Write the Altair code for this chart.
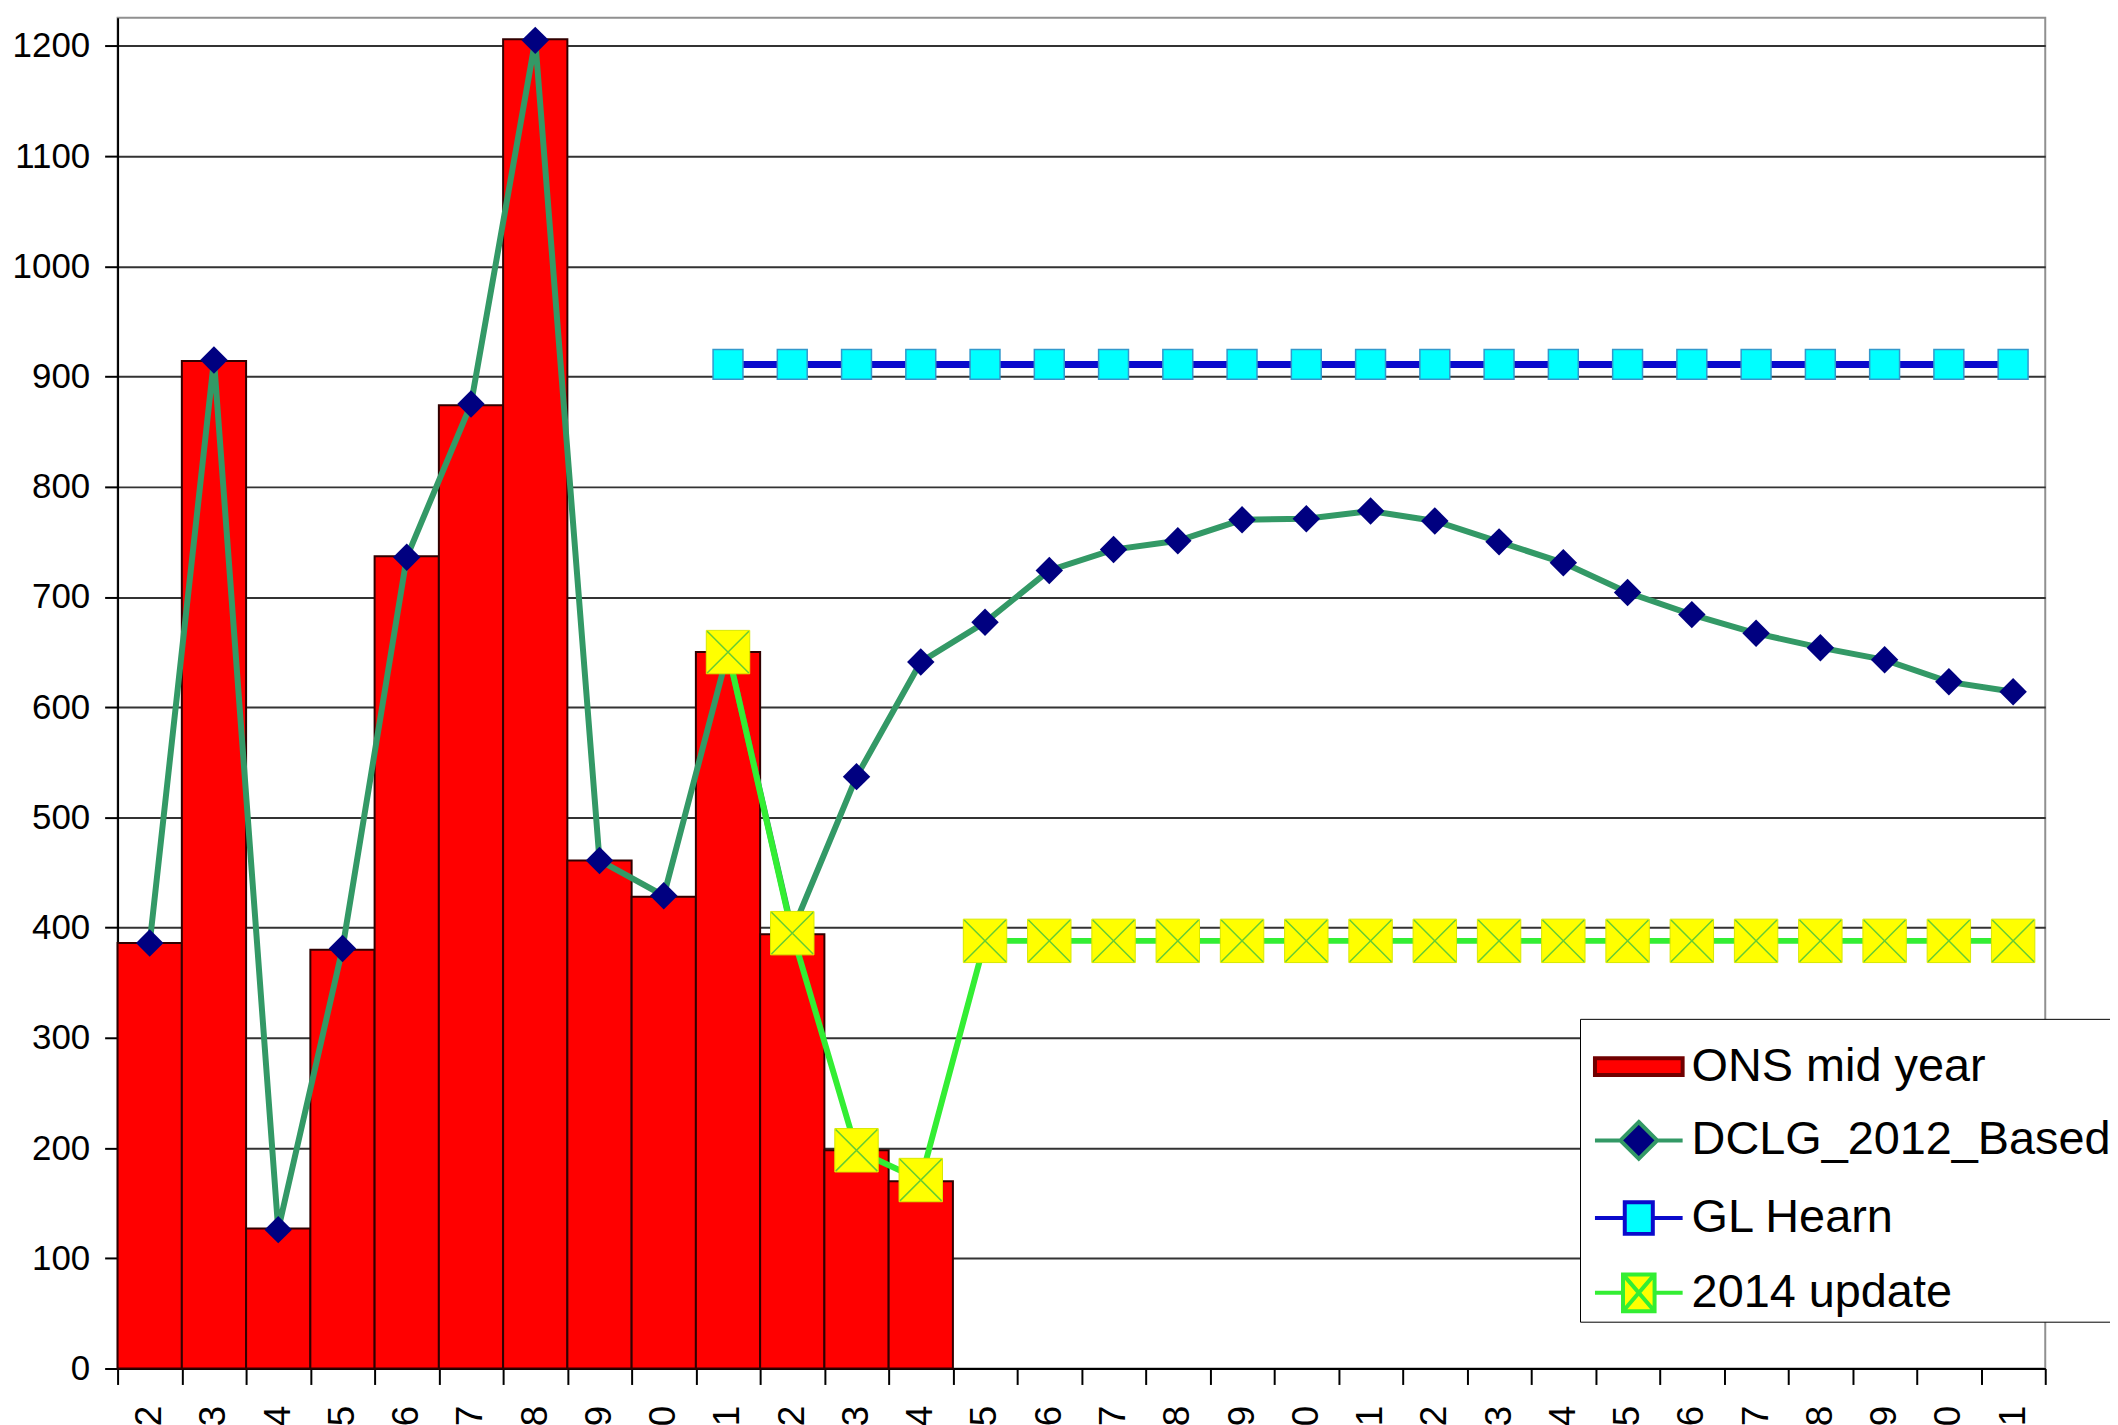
import altair as alt
import pandas as pd

years = ["2002", "2003", "2004", "2005", "2006", "2007", "2008", "2009", "2010", "2011",
         "2012", "2013", "2014", "2015", "2016", "2017", "2018", "2019", "2020", "2021",
         "2022", "2023", "2024", "2025", "2026", "2027", "2028", "2029", "2030", "2031"]

series_names = ["ONS mid year", "DCLG_2012_Based", "GL Hearn", "2014 update"]

ons_years = years[:13]
ons_mid_year = [386, 914, 127, 380, 737, 874, 1206, 461, 428, 650, 394, 198, 170]

dclg_years = years
dclg_2012_based = [386, 915, 126, 381, 736, 875, 1205, 461, 429, 650, 397, 537, 641, 677,
                   724, 743, 751, 770, 771, 778, 769, 750, 731, 704, 684, 667, 654, 643, 623, 614]

gl_years = years[9:]
gl_hearn = [911, 911, 911, 911, 911, 911, 911, 911, 911, 911, 911,
            911, 911, 911, 911, 911, 911, 911, 911, 911, 911]

upd_years = years[9:]
update_2014 = [650, 395, 198, 171, 388, 388, 388, 388, 388, 388, 388,
               388, 388, 388, 388, 388, 388, 388, 388, 388, 388]

y_ticks = [0, 100, 200, 300, 400, 500, 600, 700, 800, 900, 1000, 1100, 1200]

FONT = "Liberation Sans"

bars_df = pd.DataFrame({"year": ons_years, "value": ons_mid_year})
dclg_df = pd.DataFrame({"year": dclg_years, "value": dclg_2012_based})
gl_df = pd.DataFrame({"year": gl_years, "value": gl_hearn})
upd_df = pd.DataFrame({"year": upd_years, "value": update_2014})
legend_df = pd.DataFrame({"series": series_names})

x_enc = alt.X("year:N", scale=alt.Scale(domain=years, paddingInner=0, paddingOuter=0),
              axis=alt.Axis(title=None, labelAngle=270, labelFontSize=37, labelFont=FONT,
                            labelColor="black", tickBand="extent", tickSize=16, tickColor="black",
                            tickWidth=2, labelPadding=21, domainColor="black", domainWidth=2,
                            grid=False))
y_enc = alt.Y("value:Q", scale=alt.Scale(domain=[0, 1225.6], nice=False, zero=True),
              axis=alt.Axis(title=None, values=y_ticks, format="d", labelFontSize=35,
                            labelFont=FONT, labelColor="black", tickColor="black", tickSize=13,
                            tickWidth=2, labelPadding=15, domainColor="black", domainWidth=2,
                            grid=True, gridColor="#333333", gridWidth=2))

# legend symbols: line + marker drawn as one path per series
legend_shapes = [
    "M-1,-0.19H1V0.19H-1Z",
    "M-1,0H-0.42M0.42,0H1M0,-0.42L0.42,0L0,0.42L-0.42,0Z",
    "M-1,0H-0.32M0.32,0H1M-0.32,-0.36H0.32V0.36H-0.32Z",
    "M-1,0H-0.36M0.36,0H1M-0.36,-0.42H0.36V0.42H-0.36ZM-0.36,-0.42L0.36,0.42M0.36,-0.42L-0.36,0.42",
]
legend_fills = ["#ff0000", "#000080", "#00ffff", "#ffff00"]
legend_strokes = ["#700000", "#339966", "#0a0acc", "#33ee33"]

legend = alt.Legend(
    title=None, orient="none", legendX=1468, legendY=1005,
    labelFontSize=47, labelFont=FONT, labelColor="black", labelLimit=1000,
    symbolSize=7744, symbolStrokeWidth=4, symbolOpacity=1, rowPadding=5, padding=2,
    symbolOffset=11, labelOffset=7, fillColor="white", strokeColor="black",
)

legend_layer = alt.Chart(legend_df).transform_filter("false").mark_point(
    filled=True, opacity=1, size=100).encode(
    fill=alt.Fill("series:N", scale=alt.Scale(domain=series_names, range=legend_fills), legend=legend),
    stroke=alt.Stroke("series:N", scale=alt.Scale(domain=series_names, range=legend_strokes), legend=legend),
    shape=alt.Shape("series:N", scale=alt.Scale(domain=series_names, range=legend_shapes), legend=legend),
)

bars = alt.Chart(bars_df).mark_bar(fill="#ff0000", stroke="#300000", strokeWidth=2, opacity=1).encode(
    x=x_enc, y=y_enc)

dclg_line = alt.Chart(dclg_df).mark_line(stroke="#339966", strokeWidth=6).encode(x=x_enc, y=y_enc)
gl_line = alt.Chart(gl_df).mark_line(stroke="#0a0acc", strokeWidth=7).encode(x=x_enc, y=y_enc)
upd_line = alt.Chart(upd_df).mark_line(stroke="#33ee33", strokeWidth=6).encode(x=x_enc, y=y_enc)

dclg_pts = alt.Chart(dclg_df).mark_point(
    shape="diamond", filled=True, size=760, color="#000080", opacity=1).encode(x=x_enc, y=y_enc)
gl_pts = alt.Chart(gl_df).mark_point(
    shape="square", filled=True, size=900, fill="#00ffff", stroke="#3399cc", strokeWidth=1.5,
    opacity=1).encode(x=x_enc, y=y_enc)
upd_pts = alt.Chart(upd_df).mark_point(
    shape="square", filled=True, size=1900, fill="#ffff00", stroke="#d8e800", strokeWidth=1,
    opacity=1).encode(x=x_enc, y=y_enc)
upd_x = alt.Chart(upd_df).mark_point(
    shape="M-1,-1L1,1M1,-1L-1,1", filled=False, size=1750, stroke="#66cc33", strokeWidth=1.5,
    opacity=1).encode(x=x_enc, y=y_enc)

chart = alt.layer(bars, dclg_line, dclg_pts, gl_line, gl_pts, upd_line, upd_pts, upd_x,
                  legend_layer).properties(
    width=1935, height=1356,
    autosize=alt.AutoSizeParams(type="none"),
    padding={"left": 110, "top": 7, "right": 65, "bottom": 54},
    background="white",
).configure_view(fill="#c0c0c0", stroke="#909090", strokeWidth=2)

chart.save("out.html", embed_options={"renderer": "svg", "actions": False})
